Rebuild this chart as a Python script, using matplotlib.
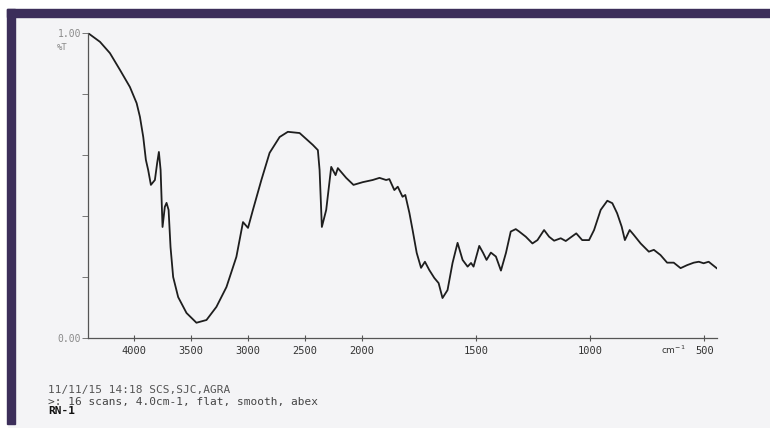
import numpy as np
import matplotlib
matplotlib.use("Agg")
import matplotlib.pyplot as plt
from matplotlib.patches import Rectangle

# IR spectrum (wavenumber in cm-1, transmittance 0..1)
wavenumber = [4397, 4295, 4208, 4120, 4033, 3974, 3945, 3916, 3893, 3873,
              3849, 3814, 3794, 3779, 3764, 3747, 3727, 3712, 3694, 3677,
              3654, 3610, 3537, 3450, 3362, 3275, 3187, 3100, 3042, 2998,
              2955, 2881, 2809, 2721, 2649, 2546, 2430, 2386, 2371, 2351,
              2313, 2269, 2231, 2211, 2138, 2074, 1996, 1953, 1923, 1894,
              1880, 1858, 1843, 1822, 1810, 1792, 1778, 1760, 1741, 1724,
              1705, 1683, 1664, 1647, 1625, 1603, 1581, 1559, 1537, 1522,
              1511, 1486, 1469, 1454, 1435, 1413, 1391, 1369, 1348, 1326,
              1311, 1282, 1253, 1231, 1202, 1180, 1158, 1129, 1107, 1085,
              1061, 1035, 1005, 983, 954, 925, 903, 882, 862, 848,
              827, 809, 779, 743, 721, 692, 663, 634, 604, 575,
              546, 524, 503, 481, 446]
transmittance = [0.999, 0.971, 0.934, 0.879, 0.823, 0.770, 0.725, 0.659, 0.584, 0.551,
                 0.502, 0.518, 0.574, 0.610, 0.551, 0.364, 0.430, 0.443, 0.420, 0.298,
                 0.200, 0.134, 0.082, 0.050, 0.059, 0.102, 0.167, 0.266, 0.380, 0.361,
                 0.420, 0.518, 0.607, 0.659, 0.676, 0.672, 0.633, 0.616, 0.551, 0.364,
                 0.420, 0.561, 0.534, 0.557, 0.525, 0.502, 0.511, 0.518, 0.525, 0.518,
                 0.521, 0.485, 0.496, 0.463, 0.469, 0.410, 0.354, 0.279, 0.230, 0.250,
                 0.223, 0.197, 0.180, 0.131, 0.157, 0.246, 0.312, 0.256, 0.234, 0.246,
                 0.234, 0.302, 0.279, 0.256, 0.280, 0.267, 0.221, 0.279, 0.349, 0.357,
                 0.349, 0.332, 0.310, 0.321, 0.354, 0.332, 0.319, 0.327, 0.318, 0.330,
                 0.343, 0.321, 0.321, 0.354, 0.420, 0.450, 0.442, 0.409, 0.365, 0.321,
                 0.354, 0.338, 0.310, 0.283, 0.289, 0.272, 0.247, 0.247, 0.229, 0.239,
                 0.247, 0.250, 0.245, 0.250, 0.229]

x_ticks = [4000, 3500, 3000, 2500, 2000, 1500, 1000, 500]
y_ticks = [0.0, 0.2, 0.4, 0.6, 0.8, 1.0]
y_ticklabels = ["0.00", "", "", "", "", "1.00"]

header_line = "11/11/15 14:18 SCS,SJC,AGRA"
scan_line = ">: 16 scans, 4.0cm-1, flat, smooth, abex"
sample_name = "RN-1"

PAPER = "#f4f4f6"
FRAME = "#3c2e5a"
INK = "#1e1e1e"
FAINT = "#8a8a8a"
MONO = "DejaVu Sans Mono"


# spectrometer prints 2x expanded scale below 2000 cm-1
def forward(w):
    w = np.asarray(w, dtype=float)
    return np.where(w >= 2000, w, 2 * w - 2000)


def inverse(u):
    u = np.asarray(u, dtype=float)
    return np.where(u >= 2000, u, (u + 2000) / 2)


fig = plt.figure(figsize=(7.7, 4.28), dpi=100, facecolor=PAPER)

# scan frame: white margin + purple border top and left
fig.patches.append(Rectangle((0, 0.979), 1, 0.021, transform=fig.transFigure, color="white", zorder=0))
fig.patches.append(Rectangle((0, 0), 0.0091, 1, transform=fig.transFigure, color="white", zorder=0))
fig.patches.append(Rectangle((0.0091, 0.9603), 0.9909, 0.0187, transform=fig.transFigure, color=FRAME, zorder=1))
fig.patches.append(Rectangle((0.0091, 0.0093), 0.0104, 0.9697, transform=fig.transFigure, color=FRAME, zorder=1))

ax = fig.add_axes([0.1143, 0.2103, 0.8167, 0.7126])
ax.set_facecolor("none")
ax.set_xscale("function", functions=(forward, inverse))
ax.plot(wavenumber, transmittance, color=INK, linewidth=1.3)
ax.set_xlim(4400, 445)
ax.set_ylim(0, 1)

for side in ["top", "right"]:
    ax.spines[side].set_visible(False)
ax.spines["left"].set_color("#555555")
ax.spines["left"].set_linewidth(0.9)
ax.spines["bottom"].set_color("#555555")
ax.spines["bottom"].set_linewidth(0.9)

ax.set_xticks(x_ticks)
ax.set_xticklabels([str(t) for t in x_ticks], fontfamily=MONO, fontsize=7.5, color="#333333")
ax.xaxis.set_minor_locator(matplotlib.ticker.NullLocator())
ax.tick_params(axis="x", direction="inout", length=4, width=0.8, color="#555555", pad=4)

ax.set_yticks(y_ticks)
ax.set_yticklabels(y_ticklabels, fontfamily=MONO, fontsize=7, color=FAINT)
ax.tick_params(axis="y", direction="out", length=4, width=0.7, color="#777777", pad=1)

fig.text(0.074, 0.890, "%T", fontfamily=MONO, fontsize=6.5, color=FAINT, va="center")
fig.text(0.874, 0.182, "cm$^{-1}$", fontsize=6.5, color="#333333", ha="center", va="center")

# printer footer
fig.text(0.0623, 0.0888, header_line, fontfamily=MONO, fontsize=8, color="#555555", va="center")
fig.text(0.0623, 0.0614, scan_line, fontfamily=MONO, fontsize=8, color="#444444", va="center")
fig.text(0.0623, 0.0404, sample_name, fontfamily=MONO, fontsize=8, color="#111111", va="center",
         fontweight="bold")

plt.savefig("out.png", dpi=100, facecolor=PAPER)
